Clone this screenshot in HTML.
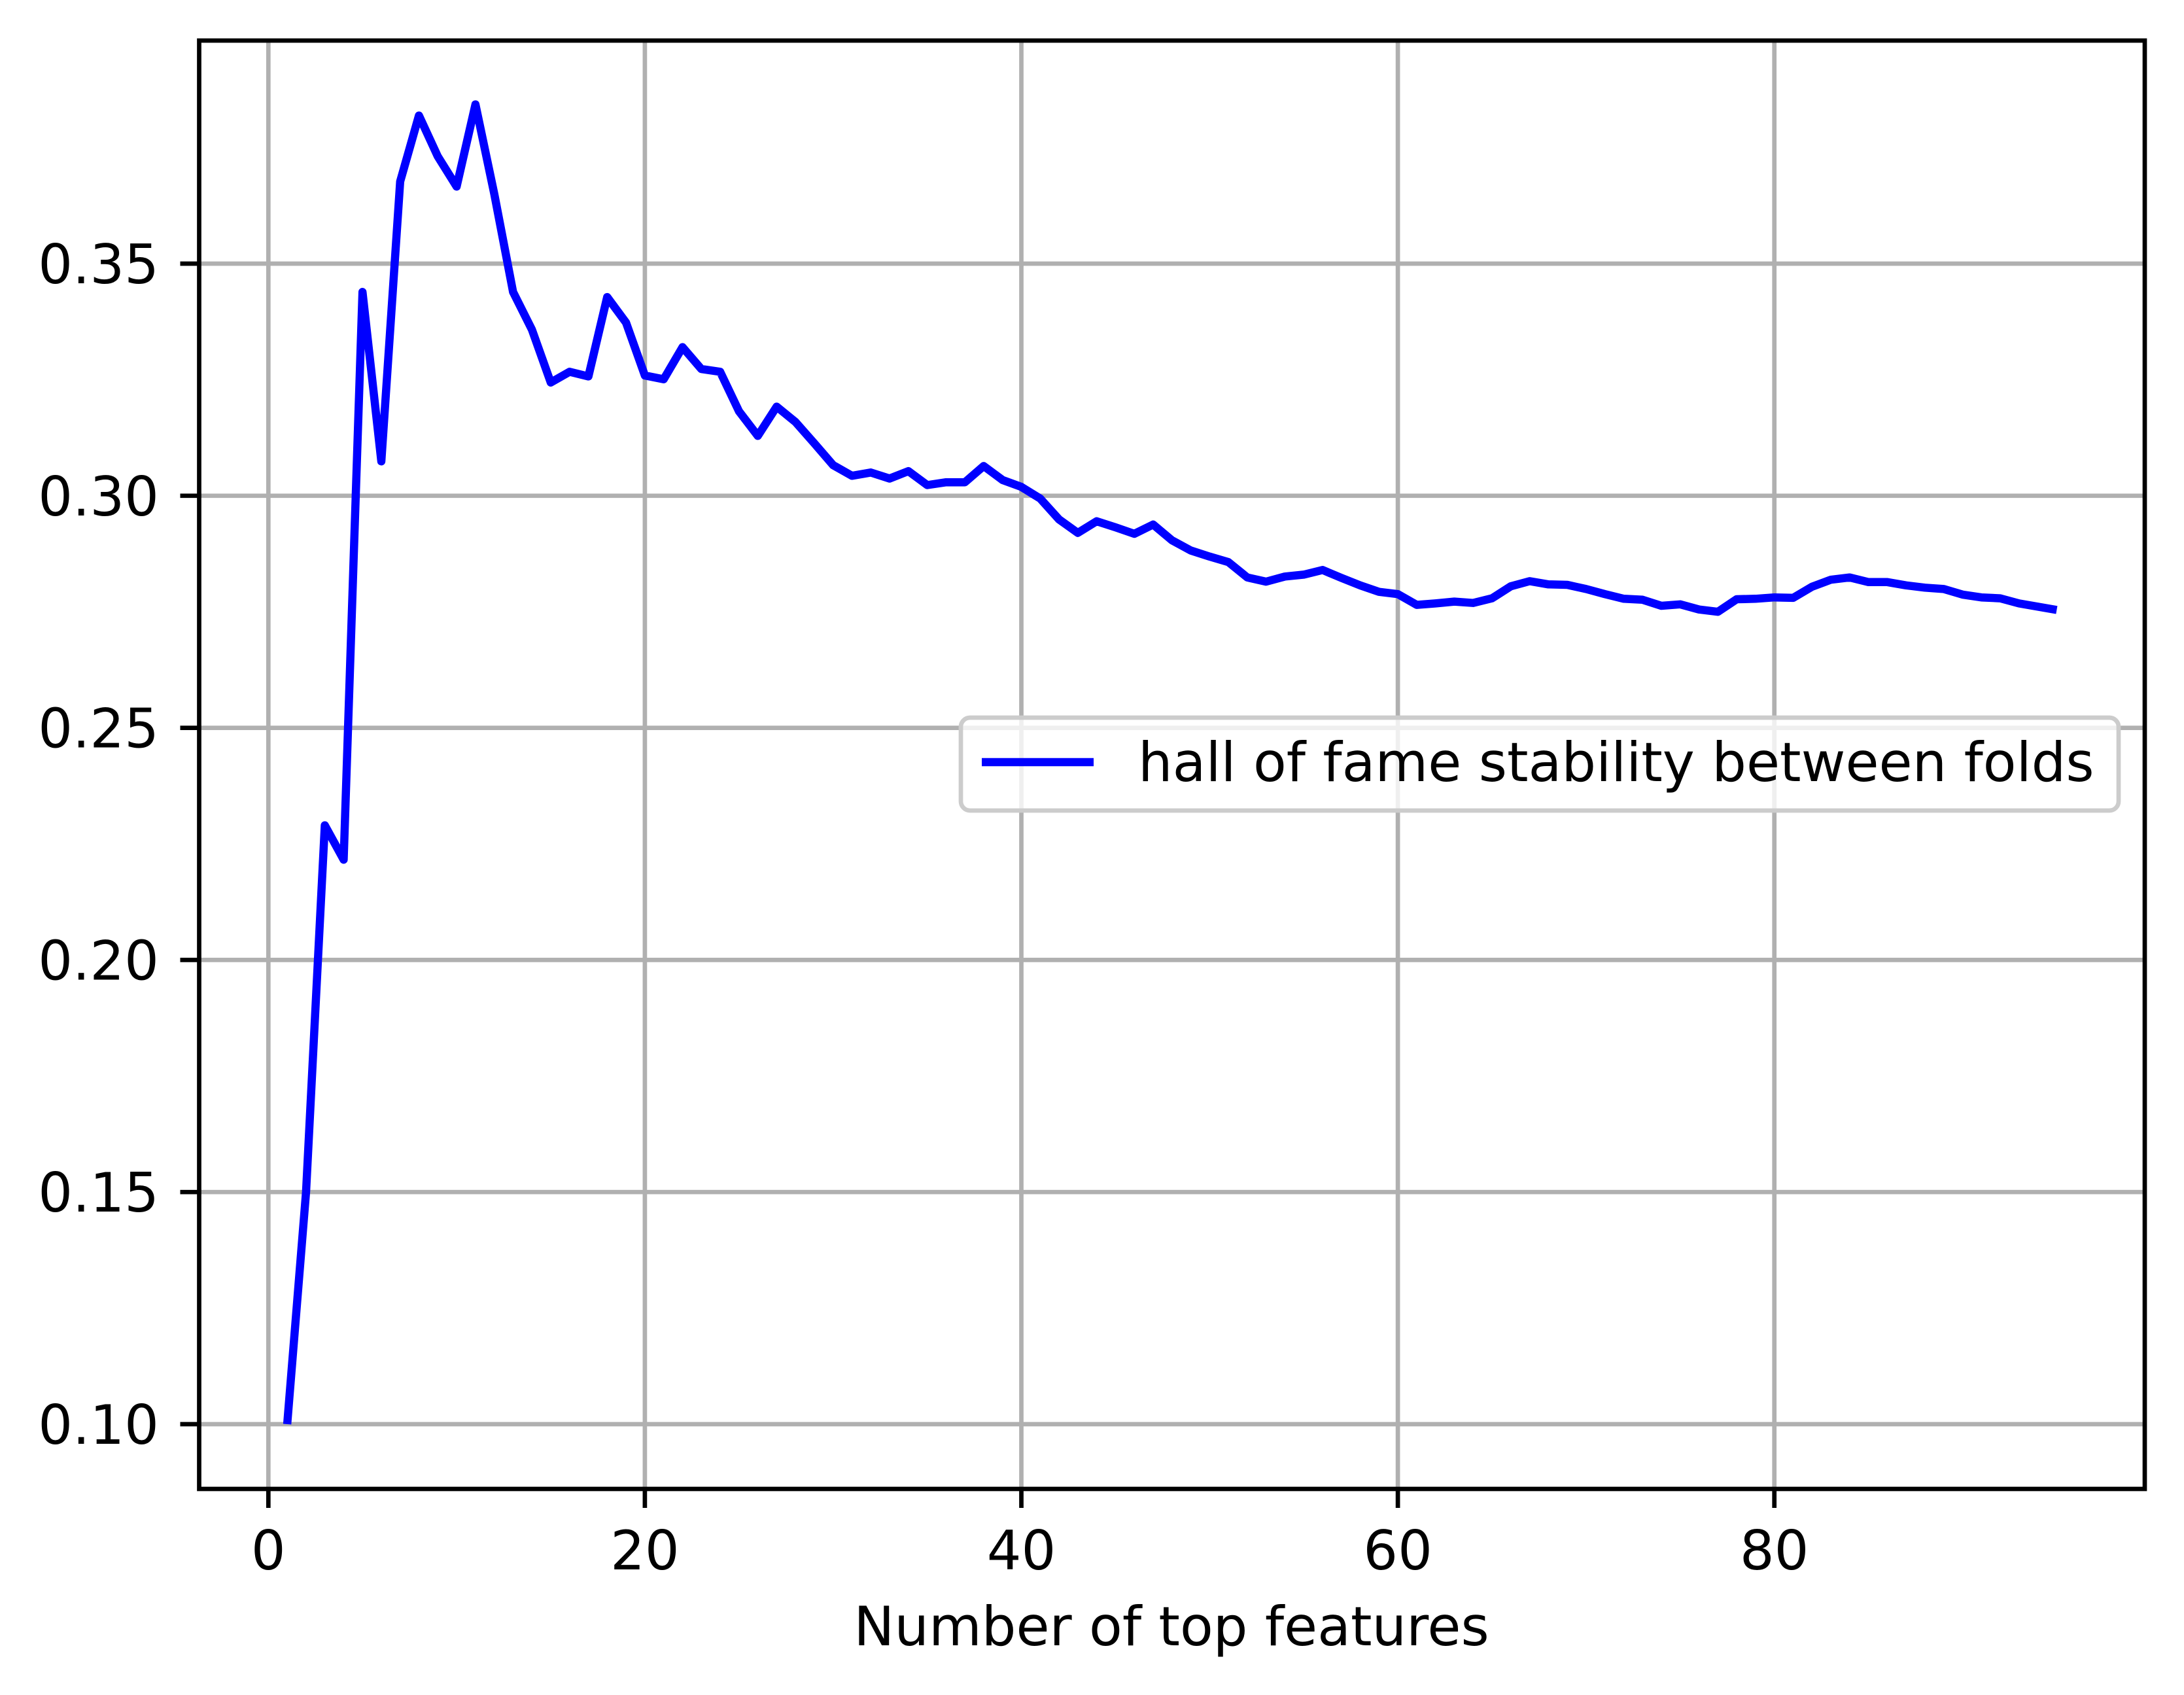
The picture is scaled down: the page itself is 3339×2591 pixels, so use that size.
<!DOCTYPE html>
<html><head><meta charset="utf-8"><title>Hall of fame stability</title>
<style>html,body{margin:0;padding:0;background:#fff}svg{display:block}text{font-family:"DejaVu Sans","Liberation Sans",sans-serif;fill:#000}</style>
</head><body>
<svg id="chart" width="3339" height="2591" viewBox="0 0 3339 2591" xmlns="http://www.w3.org/2000/svg">
<rect x="0" y="0" width="3339" height="2591" fill="#fff"/>
<g id="grid"></g>
<g id="series"></g>
<rect x="304.5" y="62" width="2974.5" height="2214" fill="none" stroke="#000" stroke-width="6.7"/>
<g id="ticks"></g>
<text x="1791" y="2515" font-size="83" text-anchor="middle">Number of top features</text>
<g>
<rect x="1469" y="1097" width="1770" height="142" rx="14" fill="#fff" fill-opacity="0.8" stroke="#ccc" stroke-width="6.7"/>
<line x1="1501" y1="1165" x2="1672" y2="1165" stroke="#0000ff" stroke-width="12.5"/>
<text x="1740" y="1194" font-size="83">hall of fame stability between folds</text>
</g>
</svg>
<script>
const xs = [1,2,3,4,5,6,7,8,9,10,11,12,13,14,15,16,17,18,19,20,21,22,23,24,25,26,27,28,29,30,31,32,33,34,35,36,37,38,39,40,41,42,43,44,45,46,47,48,49,50,51,52,53,54,55,56,57,58,59,60,61,62,63,64,65,66,67,68,69,70,71,72,73,74,75,76,77,78,79,80,81,82,83,84,85,86,87,88,89,90,91,92,93,94,95];
const stability = [0.100,0.150,0.229,0.2216,0.3439,0.3074,0.3677,0.3819,0.3731,0.3666,0.3843,0.365,0.3439,0.3358,0.3244,0.3267,0.3257,0.3428,0.3373,0.3259,0.3251,0.332,0.3273,0.3267,0.3182,0.3129,0.3192,0.3159,0.3113,0.3066,0.3043,0.305,0.3037,0.3053,0.3023,0.3029,0.3029,0.3064,0.3034,0.3019,0.2994,0.2949,0.2920,0.2945,0.2932,0.2918,0.2938,0.2904,0.2882,0.2869,0.2857,0.2824,0.2815,0.2826,0.2830,0.2840,0.2823,0.2807,0.2793,0.2788,0.2765,0.2768,0.2772,0.2769,0.2779,0.2805,0.2816,0.2809,0.2808,0.2799,0.2788,0.2778,0.2776,0.2763,0.2766,0.2755,0.2750,0.2777,0.2778,0.2781,0.2780,0.2804,0.2819,0.2824,0.2814,0.2814,0.2807,0.2802,0.2799,0.2787,0.2781,0.2779,0.2768,0.2761,0.2754];
const xTicks = [0,20,40,60,80];
const yTicks = [0.10,0.15,0.20,0.25,0.30,0.35];
const yTickLabels = ["0.10","0.15","0.20","0.25","0.30","0.35"];

const NS = "http://www.w3.org/2000/svg";
const L = 304.5, R = 3279, T = 62, B = 2276;
function X(v){ return 410.3 + v * 28.78; }
function Y(v){ return 403 + (0.35 - v) * 7096; }
const grid = document.getElementById('grid');
const ticks = document.getElementById('ticks');
const series = document.getElementById('series');
function mk(tag, attrs, parent){ const e = document.createElementNS(NS, tag); for (const k in attrs) e.setAttribute(k, attrs[k]); parent.appendChild(e); return e; }

xTicks.forEach(function(t){
  const x = X(t);
  const g = mk('line', {x1:x, y1:T, x2:x, y2:B, stroke:'#b0b0b0', 'stroke-width':6.7}, grid);
  
  
  const tk = mk('line', {x1:x, y1:B, x2:x, y2:B+29}, ticks);
  tk.setAttribute('stroke', '#000'); tk.setAttribute('stroke-width', 6.7);
  
  
  const lb = mk('text', {x:x, y:2399, 'font-size':83, 'text-anchor':'middle'}, ticks);
  lb.textContent = String(t);
  
  
});
yTicks.forEach(function(t, i){
  const y = Y(t);
  const g = mk('line', {x1:L, y1:y, x2:R, y2:y, stroke:'#b0b0b0', 'stroke-width':6.7}, grid);
  
  
  const tk = mk('line', {x1:L-29, y1:y, x2:L, y2:y, stroke:'#000', 'stroke-width':6.7}, ticks);
  
  
  const lb = mk('text', {x:243, y:y+30, 'font-size':83, 'text-anchor':'end'}, ticks);
  lb.textContent = yTickLabels[i];
  
  
});
const pts = xs.map(function(x, i){ return X(x).toFixed(1) + ',' + Y(stability[i]).toFixed(1); }).join(' ');
const line = mk('polyline', {points:pts, fill:'none', stroke:'#0000ff', 'stroke-width':12.5, 'stroke-linejoin':'round', 'stroke-linecap':'butt'}, series);


</script>
</body></html>
